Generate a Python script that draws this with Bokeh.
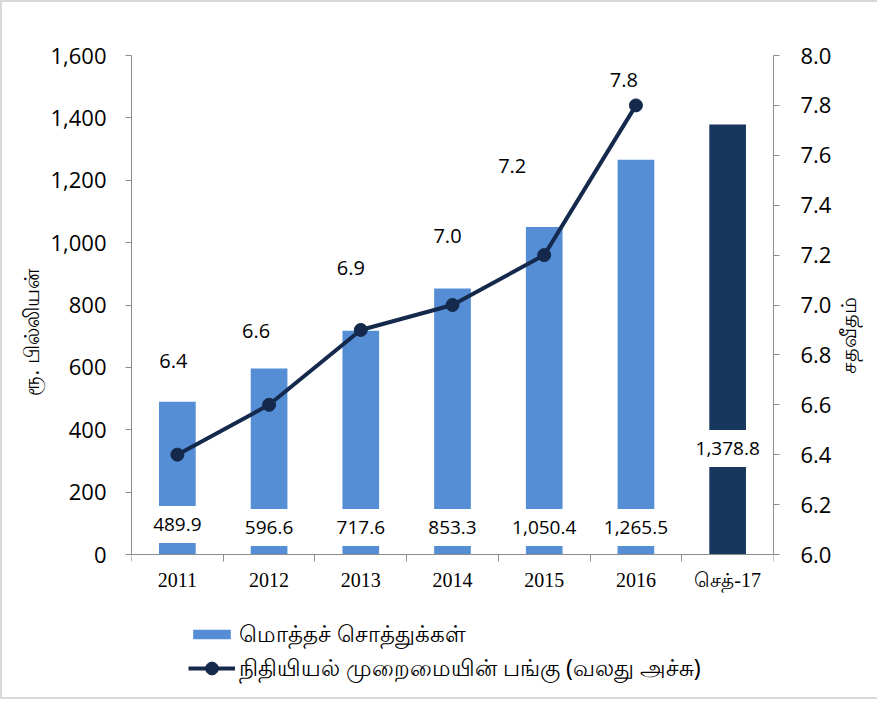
import math
from bokeh.plotting import figure
from bokeh.models import (Range1d, LinearAxis, FixedTicker, NumeralTickFormatter,
                          ColumnDataSource, LabelSet, Label, Legend, LegendItem, Title)
from bokeh.core.properties import value
from bokeh.embed import file_html
from bokeh.resources import INLINE

# ---- data ----
categories = ["2011", "2012", "2013", "2014", "2015", "2016", "செத்-17"]
total_assets = [489.9, 596.6, 717.6, 853.3, 1050.4, 1265.5, 1378.8]
share_years = ["2011", "2012", "2013", "2014", "2015", "2016"]
share_pct = [6.4, 6.6, 6.9, 7.0, 7.2, 7.8]
left_ticks = [0, 200, 400, 600, 800, 1000, 1200, 1400, 1600]
right_ticks = [6.0, 6.2, 6.4, 6.6, 6.8, 7.0, 7.2, 7.4, 7.6, 7.8, 8.0]
left_lim = (0, 1600)
right_lim = (6.0, 8.0)
bar_name = "மொத்தச் சொத்துக்கள்"
line_name = "நிதியியல் முறைமையின் பங்கு (வலது அச்சு)"
left_title = "ரூ. பில்லியன்"
right_title = "சதவீதம்"

# ---- styles / layout ----
BLUE = "#558ED5"
DARK = "#17375E"
LINE = "#14294B"
AXIS = "#8C8C8C"
bar_colors = [BLUE] * 6 + [DARK]
bar_label_yoff = [30, 27, 27, 27, 27, 27, 106]
line_label_xoff = [-4, -13, -10, -5, -32, -12]
line_label_yoff = [94, 74, 62, 69, 89, 25]
NUM_FONT = "Open Sans"
TAMIL_FONT = "Noto Sans"
W, H = 877, 699
LEFT, FRAME_W = 129, 642
TOP, BOTTOM_BORDER = 53, 10
ZERO_PX = 552                      # where the value axis' zero sits
FRAME_BOTTOM = H - BOTTOM_BORDER   # frame extends below zero to hold the legend
ext = (FRAME_BOTTOM - ZERO_PX) / (ZERO_PX - TOP)

n = len(categories)
xpos = list(range(n))
line_x = [categories.index(c) for c in share_years]

p = figure(x_range=Range1d(-0.5, n - 0.5),
           y_range=Range1d(left_lim[0] - (left_lim[1] - left_lim[0]) * ext, left_lim[1]),
           width=W, height=H, output_backend="svg", toolbar_location=None,
           x_axis_location=None, y_axis_location=None,
           min_border_left=LEFT, min_border_right=W - LEFT - FRAME_W, min_border_top=TOP,
           min_border_bottom=BOTTOM_BORDER,
           background_fill_color="white", border_fill_color="white",
           styles={"border-left": "2px solid #d9d9d9", "border-top": "2px solid #d9d9d9",
                   "border-bottom": "2px solid #d9d9d9"})
p.outline_line_color = None
p.grid.visible = False
p.extra_y_ranges = {"pct": Range1d(right_lim[0] - (right_lim[1] - right_lim[0]) * ext,
                                   right_lim[1])}

# left axis
ly = LinearAxis(ticker=FixedTicker(ticks=left_ticks), bounds=left_lim,
                formatter=NumeralTickFormatter(format="0,0"))
# right axis
ry = LinearAxis(y_range_name="pct", ticker=FixedTicker(ticks=right_ticks), bounds=right_lim,
                formatter=NumeralTickFormatter(format="0.0"), axis_label=right_title)
for ax in (ly, ry):
    ax.axis_line_color = AXIS
    ax.major_tick_line_color = AXIS
    ax.major_tick_out = 6
    ax.major_tick_in = 0
    ax.minor_tick_line_color = None
    ax.major_label_text_font = NUM_FONT
    ax.major_label_text_font_size = "22px"
    ax.major_label_text_color = "black"
    ax.axis_label_text_font = TAMIL_FONT
    ax.axis_label_text_font_size = "21px"
    ax.axis_label_text_font_style = "normal"
    ax.axis_label_text_color = "black"
ly.major_label_standoff = 19
ry.major_label_standoff = 21
ry.axis_label_standoff = 14
if "axis_label_orientation" in ry.properties():
    ry.axis_label_orientation = math.pi / 2
p.add_layout(ly, "left")
p.add_layout(ry, "right")
p.add_layout(Title(text=left_title, align="left", offset=296, standoff=6,
                   text_font=TAMIL_FONT, text_font_size="21px",
                   text_font_style="normal", text_color="black"), "left")

# category axis line at zero with ticks at category boundaries
bx = LinearAxis(ticker=FixedTicker(ticks=[], minor_ticks=[i - 0.5 for i in range(n + 1)]),
                fixed_location=0)
bx.axis_line_color = AXIS
bx.major_tick_line_color = None
bx.minor_tick_line_color = AXIS
bx.minor_tick_out = 7
bx.minor_tick_in = 0
bx.major_label_standoff = 0
p.add_layout(bx, "below")

cat_src = ColumnDataSource(dict(x=xpos, y=[0] * n, label=categories))
p.add_layout(LabelSet(x="x", y="y", text="label", source=cat_src, y_offset=-25,
                      text_align="center", text_baseline="middle",
                      text_font=value("Liberation Serif"), text_font_size=value("20px"),
                      text_color="black"))

# bars
src = ColumnDataSource(dict(x=xpos, val=total_assets, color=bar_colors))
bars = p.vbar(x="x", top="val", width=0.4, source=src, fill_color="color", line_color=None)

for xi, v, yo in zip(xpos, total_assets, bar_label_yoff):
    p.add_layout(Label(x=xi, y=0, text=f"{v:,.1f}", y_offset=yo,
                       text_align="center", text_baseline="middle",
                       text_font=NUM_FONT, text_font_size="19px", text_color="black",
                       background_fill_color="white",
                       padding=dict(left=4, right=4, top=12, bottom=12)))

# line on right axis
lsrc = ColumnDataSource(dict(x=line_x, pct=share_pct,
                             label=[f"{v:.1f}" for v in share_pct],
                             xoff=line_label_xoff, yoff=line_label_yoff))
ln = p.line(x="x", y="pct", source=lsrc, y_range_name="pct", line_color=LINE, line_width=4)
mk = p.scatter(x="x", y="pct", source=lsrc, y_range_name="pct", size=13,
               fill_color=LINE, line_color=LINE)
p.add_layout(LabelSet(x="x", y="pct", text="label", source=lsrc, y_range_name="pct",
                      x_offset="xoff", y_offset="yoff",
                      text_align="center", text_baseline="middle",
                      text_font=value(NUM_FONT), text_font_size=value("20px"),
                      text_color="black"))

common = dict(orientation="vertical", border_line_color=None, background_fill_alpha=0,
              glyph_width=47, label_height=24, spacing=0, padding=0, margin=0,
              label_standoff=4, label_text_font=TAMIL_FONT, label_text_font_size="23px",
              label_text_color="black")
leg1 = Legend(items=[LegendItem(label=bar_name, renderers=[bars], index=0)],
              location=(57, 40), glyph_height=12, **common)
leg2 = Legend(items=[LegendItem(label=line_name, renderers=[ln, mk])],
              location=(57, 6), glyph_height=32, **common)
p.add_layout(leg1)
p.add_layout(leg2)

open("out.html", "w").write(file_html(p, INLINE))
